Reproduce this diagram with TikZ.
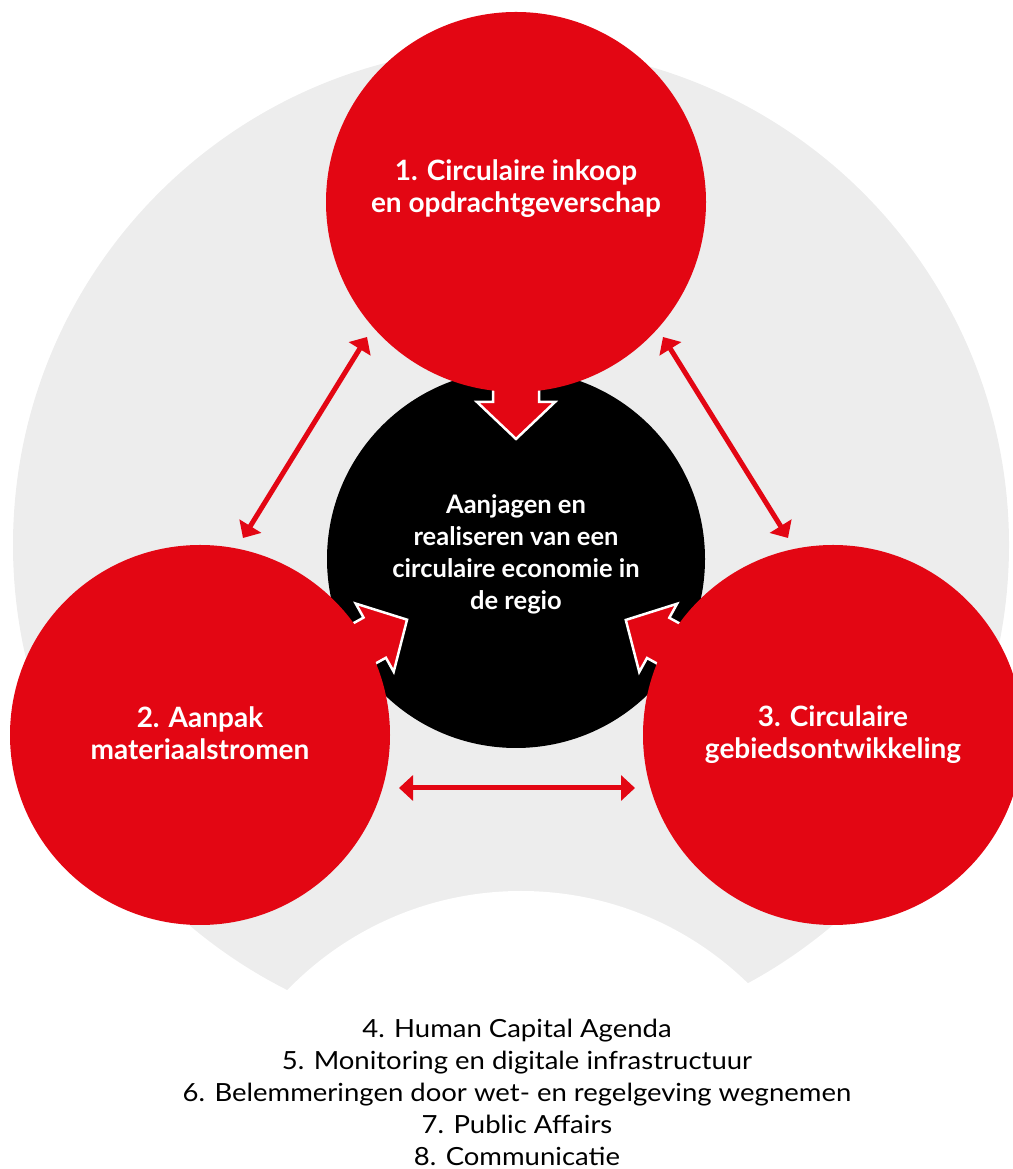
\documentclass[tikz,border=0pt]{standalone}
\usepackage{fontspec}
\setmainfont{Lato}
\newfontfamily\listfont[FakeStretch=1.1]{Lato}
\usetikzlibrary{arrows.meta,calc}
\definecolor{cred}{HTML}{E30613}
\definecolor{cgray}{HTML}{EDEDED}
\begin{document}
\begin{tikzpicture}[x=1pt,y=1pt,
  bigcirc/.style={circle, minimum size=380pt, inner sep=0pt, draw=none},
  redcirc/.style={bigcirc, fill=cred},
  blackcirc/.style={bigcirc, fill=black, minimum size=378pt},
  lbl/.style={text=white, font=\bfseries\fontsize{28}{32}\selectfont, align=center, inner sep=0pt},
  clbl/.style={lbl, font=\bfseries\fontsize{25.5}{32}\selectfont},
  listtxt/.style={text=black, font=\listfont\fontsize{25}{32}\selectfont, align=center, inner sep=0pt},
  link/.style={draw=cred, line width=5pt, {Triangle[length=14pt,width=25pt]}-{Triangle[length=14pt,width=25pt]}},
  bigarrow/.pic={\filldraw[fill=cred, draw=white, line width=2.5pt, miter limit=10]
    (0,0) -- (-37,39) -- (-37,23) -- (-125,23) -- (-125,-23) -- (-37,-23) -- (-37,-39) -- cycle;}
]
\useasboundingbox (0,0) rectangle (1012,1169);
% background
\fill[cgray] (511,624) circle[radius=498];
\fill[white] (521,-47) circle[radius=325];
% central circle
\node[blackcirc] (cb) at (516,610) {};
% red circles (positions)
\coordinate (p1) at (516,967);
\coordinate (p2) at (200,434);
\coordinate (p3) at (833,434);
% wide arrows into the centre
\pic[rotate=-90] at ($(p1)!237pt!(cb)$) {bigarrow};
\pic[rotate=29.1] at ($(p2)!237pt!(cb)$) {bigarrow};
\pic[rotate=151] at ($(p3)!237pt!(cb)$) {bigarrow};
% red circles
\node[redcirc] (c1) at (p1) {};
\node[redcirc] (c2) at (p2) {};
\node[redcirc] (c3) at (p3) {};
% labels
\node[lbl] (t1) at ($(c1)+(0,13)$) {1. Circulaire inkoop\\en opdrachtgeverschap};
\node[lbl] (t2) at ($(c2)+(0,2)$) {2. Aanpak\\materiaalstromen};
\node[lbl] (t3) at ($(c3)+(0,0)$) {3. Circulaire\\gebiedsontwikkeling};
\node[clbl] (tc) at ($(cb)+(0,5)$) {Aanjagen en\\realiseren van een\\circulaire economie in\\de regio};
% thin double arrows
\coordinate (l1) at (367,832);
\coordinate (l2) at (243,631);
\coordinate (r1) at (663,832);
\coordinate (r2) at (788,631);
\coordinate (h1) at (399,381);
\coordinate (h2) at (635,381);
\draw[link] (l1) -- (l2);
\draw[link] (r1) -- (r2);
\draw[link] (h1) -- (h2);
% list
\node[listtxt] (list) at (517,77) {4. Human Capital Agenda\\5. Monitoring en digitale infrastructuur\\6. Belemmeringen door wet- en regelgeving wegnemen\\7. Public Affairs\\8. Communicatie};
\end{tikzpicture}
\end{document}
